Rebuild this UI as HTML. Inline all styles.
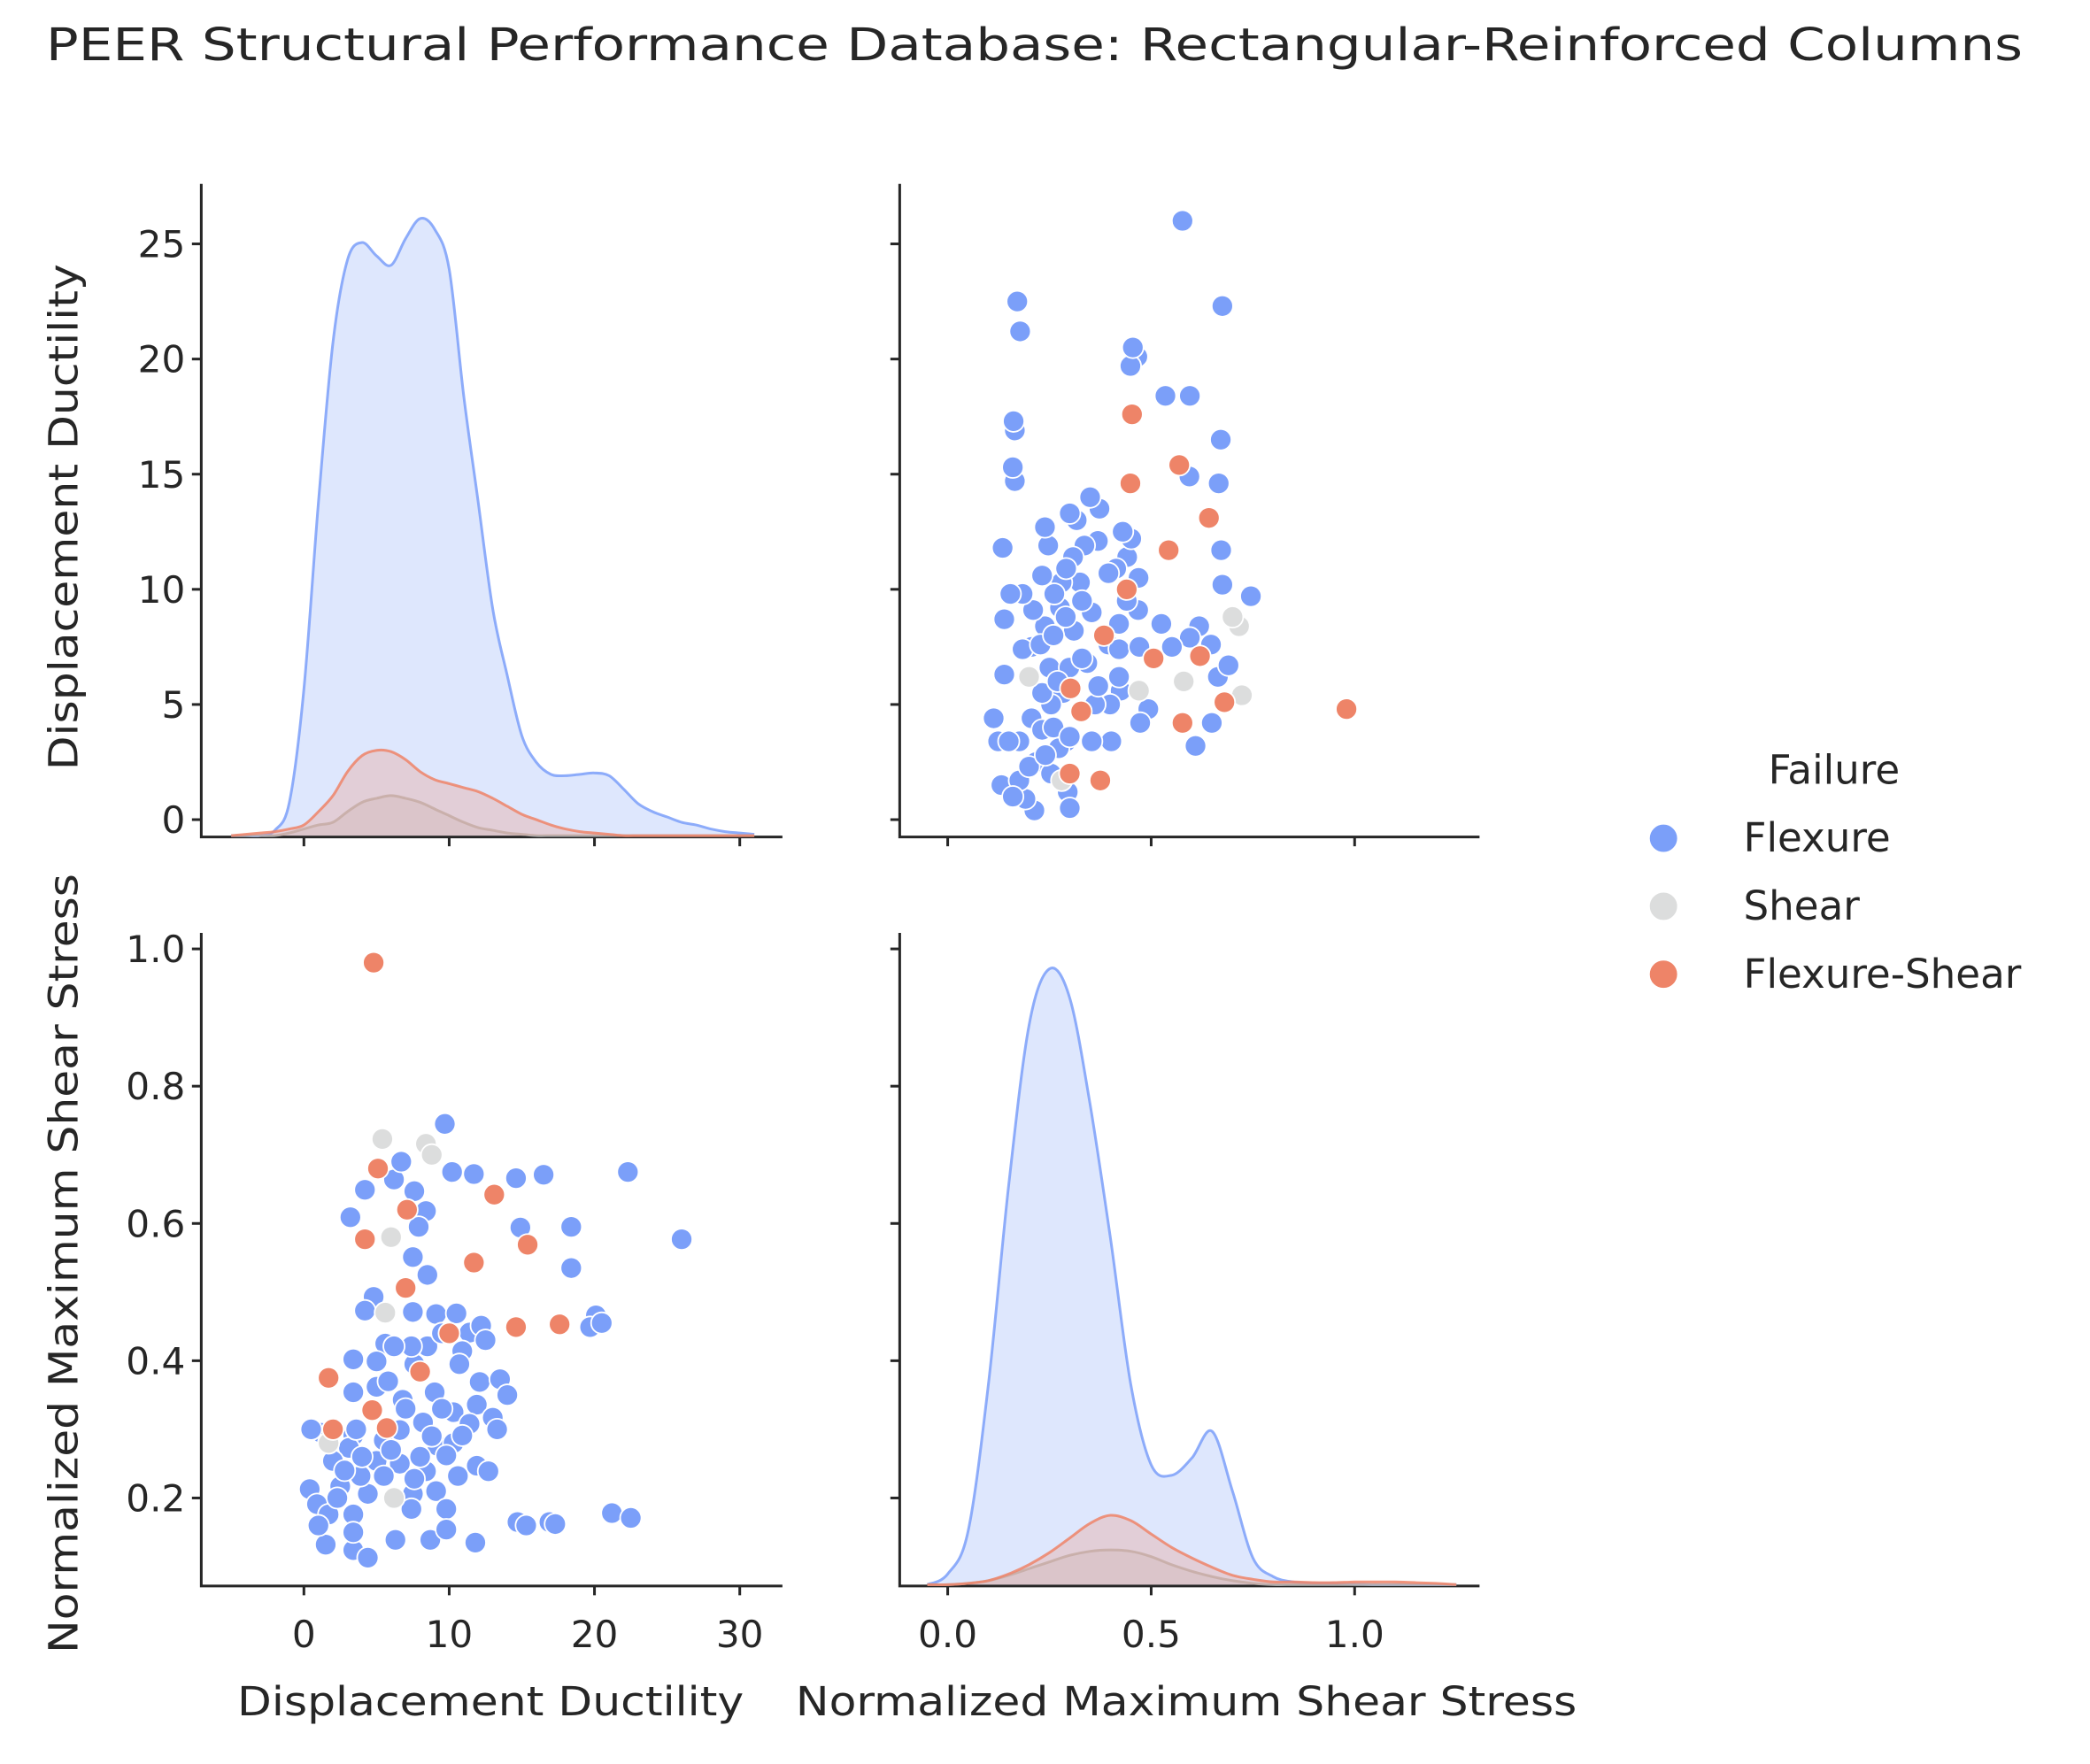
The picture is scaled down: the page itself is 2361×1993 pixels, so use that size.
<!DOCTYPE html>
<html><head><meta charset="utf-8"><style>
html,body{margin:0;padding:0;background:#fff;}
svg{display:block;font-family:"DejaVu Sans","Liberation Sans",sans-serif;}
</style></head><body>
<svg id="chart" width="2361" height="1993" viewBox="0 0 1568 1323.6" xmlns="http://www.w3.org/2000/svg">
<rect width="1568" height="1324" fill="#fff"/>
<text x="776" y="45" font-size="34" text-anchor="middle" fill="#262626" textLength="1483" lengthAdjust="spacingAndGlyphs">PEER Structural Performance Database: Rectangular-Reinforced Columns</text>
<text transform="translate(58,388) rotate(-90)" font-size="30" text-anchor="middle" fill="#262626" textLength="380" lengthAdjust="spacingAndGlyphs">Displacement Ductility</text>
<text transform="translate(58,948) rotate(-90)" font-size="30" text-anchor="middle" fill="#262626" textLength="585" lengthAdjust="spacingAndGlyphs">Normalized Maximum Shear Stress</text>
<text x="368" y="1287" font-size="30" text-anchor="middle" fill="#262626" textLength="380" lengthAdjust="spacingAndGlyphs">Displacement Ductility</text>
<text x="890" y="1287" font-size="30" text-anchor="middle" fill="#262626" textLength="586" lengthAdjust="spacingAndGlyphs">Normalized Maximum Shear Stress</text>
<g id="legend">
<text x="1376" y="588" font-size="30" text-anchor="middle" fill="#262626">Failure</text>
</g>
</svg>
<script>
// ---- data ----
const classes = ["Flexure","Shear","Flexure-Shear"];
const classColors = ["#7b9ff9","#dcdddd","#ee8468"];
const flexDuct = [9.7,4.2,6.2,6.7,7.6,10.2,11.7,14.6,16.5,22.3,3.2,8.4,7.9,14.9,18.4,26,7.5,8.5,18.4,4.8,4.2,9.1,11.4,12.2,20.1,19.7,5.6,8.5,3.4,5.0,10.9,10.7,12.1,13.5,3.4,5.0,6.8,9.0,10.3,11.9,13.0,8.2,11.4,1.2,3.4,3.1,5.5,9.2,10.3,5.0,6.6,8.4,11.9,12.7,0.4,2.5,4.4,7.5,9.1,10.6,0.9,3.4,7.4,9.8,14.7,16.9,21.2,22.5,1.5,3.4,4.4,6.3,8.7,9.8,11.8,3.4,1.7,5.5,7.6,3.9,2.0,6.6,9.8,10.9,7.6,7.4,10.5,7.5,6.2,20.5,15.3,17.3,13.3,14.0,12.5,9.5,2.3,1.0,0.5,4.0,6.0,8.0,2.8,7.0,9.5,5.8,3.6,8.8];
const flexStress = [0.745,0.649,0.664,0.69,0.647,0.675,0.672,0.666,0.671,0.675,0.609,0.618,0.595,0.594,0.595,0.577,0.551,0.525,0.535,0.493,0.473,0.468,0.441,0.451,0.466,0.449,0.425,0.421,0.402,0.399,0.414,0.395,0.369,0.373,0.354,0.362,0.343,0.354,0.325,0.336,0.317,0.31,0.308,0.295,0.291,0.273,0.284,0.276,0.28,0.254,0.25,0.239,0.247,0.239,0.213,0.217,0.206,0.206,0.21,0.232,0.191,0.176,0.184,0.184,0.165,0.165,0.178,0.171,0.132,0.124,0.113,0.139,0.139,0.154,0.135,0.15,0.176,0.232,0.228,0.232,0.254,0.299,0.262,0.291,0.395,0.421,0.469,0.471,0.421,0.455,0.16,0.162,0.3,0.35,0.43,0.44,0.2,0.16,0.3,0.26,0.27,0.26,0.24,0.33,0.33,0.37,0.3,0.29];
const shearDuct = [5.4,8.4,6.0,5.6,1.7,6.2,8.8];
const shearStress = [0.723,0.716,0.58,0.47,0.28,0.2,0.7];
const fsDuct = [4.8,13.1,4.2,11.7,15.4,7.0,14.6,17.6,1.7,4.7,5.7,5.1,7.1,8.0,10.0,2.0];
const fsStress = [0.98,0.642,0.577,0.543,0.569,0.506,0.449,0.453,0.375,0.328,0.302,0.68,0.62,0.384,0.44,0.3];
// KDE of ductility (density in arbitrary units)
const ductGrid = [-5,-4,-3,-2,-1,0,1,2,3,4,5,6,7,8,9,10,11,12,13,14,15,16,17,18,19,20,21,22,23,24,25,26,27,28,29,30,31];
const ductKdeFlex = [0,0,0,4,25,110,250,370,432,445,435,428,448,463,455,425,330,250,170,120,75,55,46,45,46,47,45,35,24,18,14,10,8,5,3,2,1];
const ductKdeShear = [0,0,0,0,2,5,8,10,18,25,28,30,28,25,20,15,10,6,4,2,1,0,0,0,0,0,0,0,0,0,0,0,0,0,0,0,0];
const ductKdeFS = [0,1,2,3,5,8,18,30,48,60,64,63,57,48,42,39,36,33,28,22,16,12,8,5,3,2,1,0,0,0,0,0,0,0,0,0,0];
// KDE of stress
const stressGrid = [-0.05,0,0.05,0.1,0.15,0.2,0.25,0.3,0.35,0.4,0.45,0.5,0.55,0.6,0.65,0.7,0.75,0.8,0.85,0.9,0.95,1.0,1.05,1.1,1.15,1.2,1.25];
const stressKdeFlex = [0,8,40,150,300,420,462,440,360,260,150,90,82,95,115,70,20,6,2,1,1,0.5,0,0,0,0,0];
const stressKdeShear = [0,0,1,3,7,12,17,22,25,26,25,21,15,10,6,3,1,0,0,0,0,0,0,0,0,0,0];
const stressKdeFS = [0,0,1,3,8,15,24,35,46,52,48,38,28,20,13,7,4,2,2,1.5,1.5,2,2,2,1.5,1,0];
const ductTicks = [0,5,10,15,20,25];
const ductXTicks = [0,10,20,30];
const stressTicks = [0.2,0.4,0.6,0.8,1.0];
const stressXTicks = [0.0,0.5,1.0];

// ---- scales ----
const P = {L1:151,R1:587,L2:675,R2:1110,T1:138,B1:628,T2:700,B2:1190};
const xD = d => 228 + 10.9*d;
const xS = s => 711 + 305.3*s;
const yD = d => 615 - 17.28*d;
const yS = s => 1124 - 515*(s-0.2);
const densTop = v => P.B1 - 1 - v;
const densBot = v => P.B2 - 1 - v;

const svg = document.getElementById('chart');
const NS = "http://www.w3.org/2000/svg";
function mk(tag, attrs, parent){ const e=document.createElementNS(NS,tag); for(const k in attrs) e.setAttribute(k,attrs[k]); (parent||svg).appendChild(e); return e; }
const fmt = v => (Math.round(v*10)/10).toFixed(1);

function panel(name, L, R, T, B, yt, yfn, ylab, xt, xfn, xlab, xfmt, yfmt){
  const g = mk('g',{});
  
  
  const ax = mk('path',{d:`M${L},${T}V${B}H${R}`,fill:'none',stroke:'#262626','stroke-width':2},g);
  
  
  yt.forEach(v=>{
    const y=yfn(v);
    const t=mk('line',{x1:L-7,x2:L,y1:y,y2:y,stroke:'#262626','stroke-width':2},g);
    
    
    if(ylab){ const tx=mk('text',{x:L-12,y:y+10,'font-size':28,'text-anchor':'end',fill:'#262626'},g); tx.textContent=yfmt(v);
      
       }
  });
  xt.forEach(v=>{
    const x=xfn(v);
    const t=mk('line',{x1:x,x2:x,y1:B,y2:B+7,stroke:'#262626','stroke-width':2},g);
    
    
    if(xlab){ const tx=mk('text',{x:x,y:B+46,'font-size':28,'text-anchor':'middle',fill:'#262626'},g); tx.textContent=xfmt(v);
      
       }
  });
  return g;
}
function smoothPath(pts){
  let d = 'M'+pts[0][0].toFixed(1)+','+pts[0][1].toFixed(1);
  for(let i=0;i<pts.length-1;i++){
    const p0=pts[Math.max(0,i-1)], p1=pts[i], p2=pts[i+1], p3=pts[Math.min(pts.length-1,i+2)];
    const c1=[p1[0]+(p2[0]-p0[0])/6, p1[1]+(p2[1]-p0[1])/6];
    const c2=[p2[0]-(p3[0]-p1[0])/6, p2[1]-(p3[1]-p1[1])/6];
    d+=`C${c1[0].toFixed(1)},${c1[1].toFixed(1)} ${c2[0].toFixed(1)},${c2[1].toFixed(1)} ${p2[0].toFixed(1)},${p2[1].toFixed(1)}`;
  }
  return d;
}
function kde(g, grid, vals, xfn, yfn, color, name){
  const pts = grid.map((x,i)=>[xfn(x), yfn(vals[i])]);
  const d = smoothPath(pts);
  const area = d + `L${xfn(grid[grid.length-1])},${yfn(0)}L${xfn(grid[0])},${yfn(0)}Z`;
  const a=mk('path',{d:area,fill:color,'fill-opacity':0.25,stroke:'none'},g);
  
  
  const l=mk('path',{d:d,fill:'none',stroke:color,'stroke-width':2,'stroke-opacity':0.85,'stroke-linejoin':'round'},g);
  
  
}
function scatter(g, xs, ys, xfn, yfn, color, name){
  xs.forEach((v,i)=>{
    const c=mk('circle',{cx:xfn(v),cy:yfn(ys[i]),r:8,fill:color,stroke:'#fff','stroke-width':1.2},g);
    
    
  });
}
const intf = v=>String(v);
const g1 = panel('panel-ductility-kde',P.L1,P.R1,P.T1,P.B1,ductTicks,yD,true,ductXTicks,xD,false,intf,intf);
kde(g1,ductGrid,ductKdeFlex,xD,densTop,classColors[0],'kde-flexure');
kde(g1,ductGrid,ductKdeShear,xD,densTop,'#b8b8b8','kde-shear');
kde(g1,ductGrid,ductKdeFS,xD,densTop,classColors[2],'kde-flexure-shear');
const g2 = panel('panel-stress-vs-ductility',P.L2,P.R2,P.T1,P.B1,ductTicks,yD,false,stressXTicks,xS,false,fmt,intf);
scatter(g2,flexStress,flexDuct,xS,yD,classColors[0],'point-flexure');
scatter(g2,shearStress,shearDuct,xS,yD,classColors[1],'point-shear');
scatter(g2,fsStress,fsDuct,xS,yD,classColors[2],'point-flexure-shear');
const g3 = panel('panel-ductility-vs-stress',P.L1,P.R1,P.T2,P.B2,stressTicks,yS,true,ductXTicks,xD,true,intf,fmt);
scatter(g3,flexDuct,flexStress,xD,yS,classColors[0],'point-flexure');
scatter(g3,shearDuct,shearStress,xD,yS,classColors[1],'point-shear');
scatter(g3,fsDuct,fsStress,xD,yS,classColors[2],'point-flexure-shear');
const g4 = panel('panel-stress-kde',P.L2,P.R2,P.T2,P.B2,stressTicks,yS,false,stressXTicks,xS,true,fmt,fmt);
kde(g4,stressGrid,stressKdeFlex,xS,densBot,classColors[0],'kde-flexure');
kde(g4,stressGrid,stressKdeShear,xS,densBot,'#b8b8b8','kde-shear');
kde(g4,stressGrid,stressKdeFS,xS,densBot,classColors[2],'kde-flexure-shear');
const lg = document.getElementById('legend');
classes.forEach((c,i)=>{
  const y = 629 + i*51;
  const m = mk('circle',{cx:1248,cy:y,r:11,fill:classColors[i],stroke:'#fff','stroke-width':1.5},lg);
  
  
  const t = mk('text',{x:1308,y:y+10,'font-size':30,fill:'#262626'},lg);
  t.textContent = c;
  
  
});
</script>
</body></html>
